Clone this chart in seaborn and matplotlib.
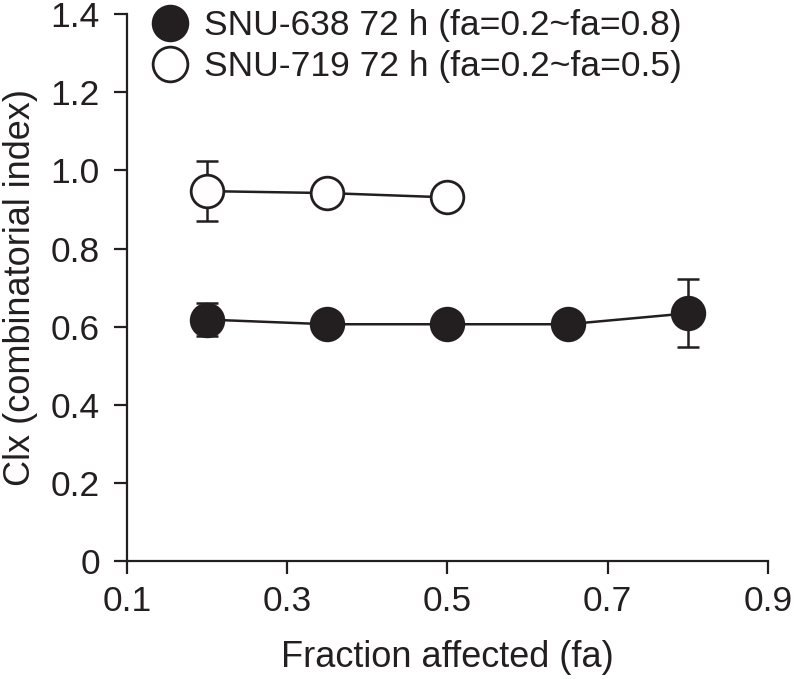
import pandas as pd
import matplotlib
matplotlib.use('Agg')
import matplotlib.pyplot as plt
import seaborn as sns

# data
fa_638 = [0.2, 0.35, 0.5, 0.65, 0.8]
ci_638 = [0.618, 0.606, 0.606, 0.606, 0.634]
err_638 = [0.043, 0.0, 0.0, 0.0, 0.087]

fa_719 = [0.2, 0.35, 0.5]
ci_719 = [0.947, 0.942, 0.931]
err_719 = [0.077, 0.0, 0.0]

label_638 = 'SNU-638 72 h (fa=0.2~fa=0.8)'
label_719 = 'SNU-719 72 h (fa=0.2~fa=0.5)'

df = pd.concat([
    pd.DataFrame({'fa': fa_638, 'ci': ci_638, 'err': err_638, 'line': label_638}),
    pd.DataFrame({'fa': fa_719, 'ci': ci_719, 'err': err_719, 'line': label_719}),
])

sns.set_theme(style="ticks")
plt.rcParams['font.family'] = ['Liberation Sans', 'DejaVu Sans']

fig = plt.figure(figsize=(7.94, 6.79), dpi=100)
ax = fig.add_axes([0.16, 0.174, 0.807, 0.805])

ink = '#231f20'
styles = {label_638: ink, label_719: 'white'}
for name, grp in df.groupby('line', sort=False):
    # error bars behind the markers
    ax.errorbar(grp['fa'], grp['ci'], yerr=grp['err'], fmt='none', ecolor=ink,
                elinewidth=1.8, capsize=8, capthick=1.8, zorder=1)
    sns.lineplot(data=grp, x='fa', y='ci', ax=ax, color=ink, linewidth=1.8,
                 marker='o', markersize=23.5, markerfacecolor=styles[name],
                 markeredgecolor=ink, markeredgewidth=2, label=name, zorder=3)

ax.set_xlim(0.1, 0.9)
ax.set_ylim(0, 1.4)
ax.set_xticks([0.1, 0.3, 0.5, 0.7, 0.9])
ax.set_xticklabels(['0.1', '0.3', '0.5', '0.7', '0.9'])
ax.set_yticks([0, 0.2, 0.4, 0.6, 0.8, 1.0, 1.2, 1.4])
ax.set_yticklabels(['0', '0.2', '0.4', '0.6', '0.8', '1.0', '1.2', '1.4'])
ax.set_xlabel('Fraction affected (fa)', fontsize=26, color=ink, labelpad=16)
ax.set_ylabel('Clx (combinatorial index)', fontsize=26, color=ink, labelpad=9)
ax.tick_params(labelsize=25.5, colors=ink, length=9.5, width=1.6, direction='out')
ax.tick_params(axis='y', pad=10)
ax.tick_params(axis='x', pad=8)
for side in ['top', 'right']:
    ax.spines[side].set_visible(False)
for side in ['left', 'bottom']:
    ax.spines[side].set_linewidth(1.6)
    ax.spines[side].set_color(ink)
for child in ax.get_children():
    try:
        child.set_clip_on(False)
    except Exception:
        pass

ax.legend(loc='upper left', bbox_to_anchor=(0.02, 1.035), frameon=False,
          fontsize=25.5, handlelength=0.9, handletextpad=0.5, labelspacing=0.22,
          borderaxespad=0)
leg = ax.get_legend()
for line in leg.get_lines():
    line.set_linestyle('none')
    line.set_markersize(25)
for t in leg.get_texts():
    t.set_color(ink)

fig.savefig('out.png', dpi=100)
